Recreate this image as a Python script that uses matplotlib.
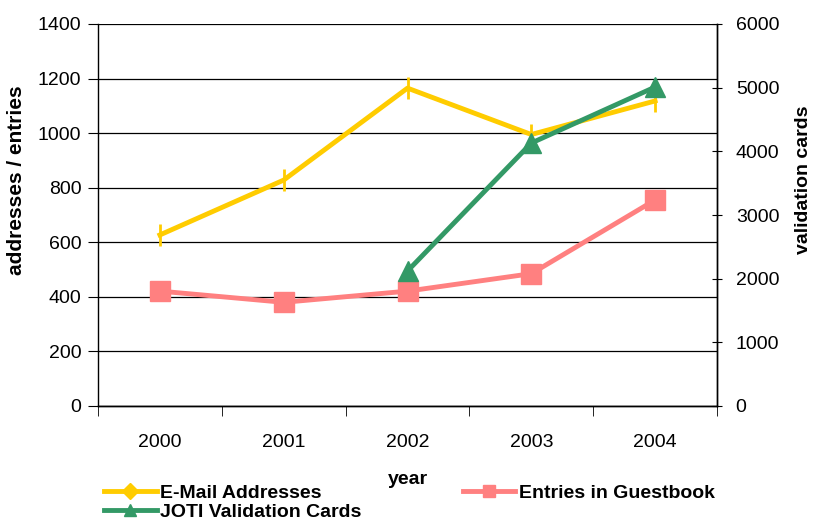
import matplotlib.pyplot as plt
from matplotlib.lines import Line2D

years = ["2000", "2001", "2002", "2003", "2004"]
email = [627, 828, 1165, 995, 1118]
guestbook = [421, 380, 421, 485, 755]
joti_years = ["2002", "2003", "2004"]
joti = [2120, 4130, 5010]

yellow = "#FFCC00"
green = "#339966"
pink = "#FF8080"

plt.rcParams["font.family"] = ["Liberation Sans", "DejaVu Sans"]

fig = plt.figure(figsize=(8.14, 5.2), dpi=100)
ax = fig.add_axes([98 / 814, 1 - 406 / 520, 619 / 814, 382 / 520])
ax2 = ax.twinx()

x = list(range(len(years)))
xj = [years.index(y) for y in joti_years]

ax.plot(x, email, color=yellow, lw=3.5, marker="|", ms=16, mew=2, zorder=3)
ax.plot(x, guestbook, color=pink, lw=3.5, marker="s", ms=14, zorder=3)
ax2.plot(xj, joti, color=green, lw=3.5, marker="^", ms=15, zorder=3)

ax.set_xlim(-0.5, len(years) - 0.5)
ax.set_ylim(0, 1400)
ax.set_yticks(range(0, 1401, 200))
ax2.set_ylim(0, 6000)
ax2.set_yticks(range(0, 6001, 1000))

ax.set_xticks(x)
ax.set_xticklabels(years)
ax.set_xticks([i - 0.5 for i in range(len(years) + 1)], minor=True)
ax.tick_params(axis="x", which="major", length=0, pad=20, labelsize=14)
ax.tick_params(axis="x", which="minor", length=7, direction="out", color="black")
ax.tick_params(axis="y", length=7, direction="out", labelsize=14, pad=5)
ax2.tick_params(axis="y", length=7, direction="inout", labelsize=14, pad=10)

ax.grid(axis="y", color="black", lw=0.9)
ax.set_axisbelow(True)
for a in (ax, ax2):
    a.spines["top"].set_visible(False)
    for s in ("left", "right", "bottom"):
        a.spines[s].set_color("black")
        a.spines[s].set_linewidth(1)
ax2.spines["left"].set_visible(False)

ax.set_ylabel("addresses / entries", fontsize=15, fontweight="bold")
ax.yaxis.set_label_coords(-0.116, 0.592)
ax2.set_ylabel("validation cards", fontsize=14, fontweight="bold", rotation=90)
ax2.yaxis.set_label_coords(1.126, 0.592)
ax.set_xlabel("year", fontsize=14, fontweight="bold")
ax.xaxis.set_label_coords(0.5, -0.17)

handles = [
    Line2D([], [], color=yellow, lw=3.5, marker="D", ms=8),
    Line2D([], [], color=green, lw=3.5, marker="^", ms=9),
    Line2D([], [], color=pink, lw=3.5, marker="s", ms=9),
]
labels = ["E-Mail Addresses", "JOTI Validation Cards", "Entries in Guestbook"]
fig.legend(handles, labels, loc="upper left", bbox_to_anchor=(104 / 814, 1 - 484 / 520), ncol=2,
           frameon=False, prop={"weight": "bold", "size": 14}, handlelength=2.7,
           handletextpad=0.2, labelspacing=0.1, columnspacing=5.2,
           borderpad=0, borderaxespad=0)

fig.savefig("out.png", dpi=100)
